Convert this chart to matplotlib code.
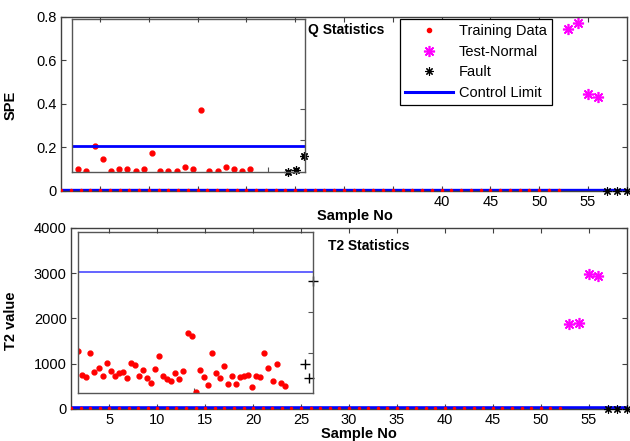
#! /usr/bin/env python3

'''
Q and T2 monitoring charts, each with a zoomed inset of the training data
'''

import matplotlib
matplotlib.use('Agg')
import matplotlib.pyplot as plt

plt.rcParams['font.family'] = ['Liberation Sans', 'DejaVu Sans']

# main Q chart
train_x = list(range(1, 53))
q_train = [0.003] * 52
test_x = [53, 54, 55, 56]
q_test = [0.745, 0.771, 0.445, 0.434]
fault_x = [57, 58, 59]
q_fault = [0.002, 0.002, 0.002]
q_limit = 0.004

# inset of the Q chart
q_in_x = list(range(1, 23))
q_in = [0.099, 0.092, 0.205, 0.146, 0.092, 0.100, 0.102, 0.092, 0.099,
        0.172, 0.092, 0.092, 0.092, 0.108, 0.099, 0.370, 0.092, 0.092,
        0.108, 0.101, 0.092, 0.099]
q_in_fault_x = [26.6, 27.5, 28.5]
q_in_fault = [0.088, 0.095, 0.161]
q_in_limit = 0.207

# main T2 chart
t2_train = [15] * 52
t2_test = [1878, 1907, 2983, 2939]
t2_fault = [10, 10, 10]
t2_limit = 15

# inset of the T2 chart
t2_in = [1282, 751, 714, 1230, 810, 913, 729, 1024, 847, 729, 803, 810,
         692, 1024, 972, 729, 862, 678, 567, 884, 1171, 729, 656, 619,
         788, 663, 847, 1672, 1613, 383, 862, 714, 530, 1230, 803, 692,
         957, 545, 737, 545, 714, 737, 751, 494, 729, 714, 1245, 899,
         619, 994, 582, 508]
t2_in_fault = [987, 678, 2829]
t2_in_limit = 3034

legend_labels = ['Training Data', 'Test-Normal', 'Fault', 'Control Limit']

edge = '#404040'
star = (8, 2, 0)


def style(ax, color=edge):
    for s in ax.spines.values():
        s.set_color(color)
        s.set_linewidth(1.0)
    ax.tick_params(direction='in', top=True, right=True, length=3.5,
                   width=0.8, color=color, labelsize=10.5, pad=3)


def main():
    fig = plt.figure(figsize=(6.3, 4.41), dpi=100)

    # ---- Q panel ----
    ax1 = fig.add_axes([0.0968, 0.5669, 0.8984, 0.3946], zorder=2)
    ax1.set_facecolor('none')
    ax1.axhline(q_limit, color='blue', lw=2.4, zorder=2)
    ax1.plot(train_x, q_train, '.', color='red', markersize=3, zorder=3)
    ax1.plot(test_x, q_test, linestyle='none', marker=star, color='#ff00ff',
             markersize=8, mew=1.2)
    ax1.plot(fault_x, q_fault, linestyle='none', marker=star, color='black',
             markersize=6, mew=0.8, clip_on=False, zorder=4)
    ax1.set_xlim(1, 59)
    ax1.set_ylim(0, 0.8)
    ax1.set_yticks([0, 0.2, 0.4, 0.6, 0.8])
    ax1.set_yticklabels(['0', '0.2', '0.4', '0.6', '0.8'])
    xt = list(range(5, 60, 5))
    ax1.set_xticks(xt)
    ax1.set_xticklabels([str(v) if v >= 40 else '' for v in xt])
    style(ax1)
    ax1.set_ylabel('SPE', fontweight='bold', fontsize=10.5)
    ax1.yaxis.set_label_coords(-0.076, 0.494)
    ax1.set_xlabel('Sample No', fontweight='bold', fontsize=10.5)
    ax1.xaxis.set_label_coords(0.519, -0.105)

    handles = [
        plt.Line2D([], [], linestyle='none', marker='.', color='red',
                   markersize=6),
        plt.Line2D([], [], linestyle='none', marker=star, color='#ff00ff',
                   markersize=8, mew=1.2),
        plt.Line2D([], [], linestyle='none', marker=star, color='black',
                   markersize=6, mew=0.8),
        plt.Line2D([], [], color='blue', lw=2.2),
    ]
    leg = ax1.legend(handles, legend_labels, loc='upper left',
                     bbox_to_anchor=(400 / 630, 1 - 19 / 441),
                     bbox_transform=fig.transFigure, fontsize=10.5,
                     fancybox=False, framealpha=1, edgecolor='black',
                     handlelength=3.3, handletextpad=0.4, labelspacing=0.45,
                     borderpad=0.35, borderaxespad=0)
    leg.get_frame().set_linewidth(0.9)

    fig.text(308 / 630, 1 - 30 / 441, 'Q Statistics', fontweight='bold',
             fontsize=10, va='center', ha='left')

    in1 = fig.add_axes([0.1138, 0.6107, 0.3703, 0.3455], zorder=1)
    in1.plot(q_in_x, q_in, '.', color='red', markersize=7)
    in1.plot(q_in_fault_x, q_in_fault, linestyle='none', marker=star,
             color='black', markersize=6, mew=0.9, clip_on=False)
    in1.axhline(q_in_limit, color='blue', lw=2.0)
    in1.set_xlim(0.2, 28.65)
    in1.set_ylim(0.0876, 0.787)
    in1.set_xticks([24.1])
    in1.set_yticks([0.233, 0.375])
    style(in1, '#555555')
    in1.tick_params(labelbottom=False, labelleft=False, top=False,
                    left=False)

    # ---- T2 panel ----
    ax2 = fig.add_axes([0.1127, 0.0726, 0.8825, 0.4104], zorder=2)
    ax2.set_facecolor('none')
    ax2.axhline(t2_limit, color='blue', lw=2.6, zorder=2)
    ax2.plot(train_x, t2_train, '.', color='red', markersize=3, zorder=3)
    ax2.plot(test_x, t2_test, linestyle='none', marker=star, color='#ff00ff',
             markersize=8, mew=1.2)
    ax2.plot(fault_x, t2_fault, linestyle='none', marker=star, color='black',
             markersize=6, mew=0.8, clip_on=False, zorder=4)
    ax2.set_xlim(1, 59)
    ax2.set_ylim(0, 4000)
    ax2.set_yticks([0, 1000, 2000, 3000, 4000])
    ax2.set_xticks(xt)
    style(ax2)
    ax2.set_ylabel('T2 value', fontweight='bold', fontsize=10.5)
    ax2.yaxis.set_label_coords(-0.095, 0.49)
    ax2.set_xlabel('Sample No', fontweight='bold', fontsize=10.5)
    ax2.xaxis.set_label_coords(0.518, -0.1)

    fig.text(328 / 630, 1 - 246 / 441, 'T2 Statistics', fontweight='bold',
             fontsize=10, va='center', ha='left')

    in2 = fig.add_axes([0.1238, 0.1088, 0.3730, 0.3651], zorder=1)
    in2.plot(train_x, t2_in, '.', color='red', markersize=7)
    in2.plot(fault_x, t2_in_fault, linestyle='none', marker='+',
             color='black', markersize=7, mew=1.0, clip_on=False)
    in2.axhline(t2_in_limit, color='#4a4aff', lw=1.2)
    in2.set_xlim(0.93, 59)
    in2.set_ylim(354, 3912)
    in2.set_xticks([29.5])
    in2.set_yticks([1240, 2150])
    style(in2, '#555555')
    in2.tick_params(labelbottom=False, labelleft=False, top=False,
                    left=False)

    fig.savefig('out.png', dpi=100, facecolor='white')


if __name__ == '__main__':
    main()
